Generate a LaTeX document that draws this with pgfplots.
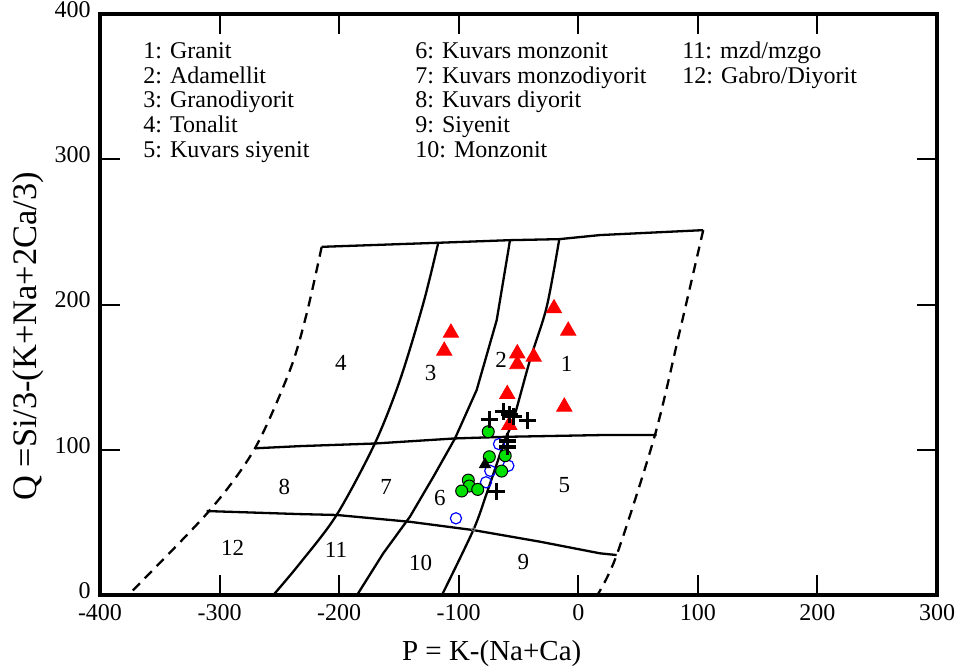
\documentclass[border=0pt]{standalone}
\usepackage{fontspec}
\setmainfont{Liberation Serif}
\usepackage{pgfplots}
\pgfplotsset{compat=1.18}
\definecolor{mygreen}{RGB}{0,225,0}
\begin{document}
\begin{tikzpicture}
\useasboundingbox (-50pt,-38pt) rectangle (429pt,297.5pt);
\begin{axis}[
  scale only axis, width=418.5pt, height=290.5pt,
  xmin=-400, xmax=300, ymin=0, ymax=400,
  xtick={-400,-300,-200,-100,0,100,200,300},
  ytick={0,100,200,300,400},
  xticklabels={-400,-300,-200,-100,0,100,200,300},
  yticklabels={0,100,200,300,400},
  tick align=inside, major tick length=10pt,
  tick style={line width=1pt, black},
  axis line style={line width=1.8pt},
  xticklabel style={font=\fontsize{12}{13}\selectfont, inner sep=1pt, yshift=-3.8pt},
  yticklabel style={font=\fontsize{12}{13}\selectfont, inner sep=1pt, yshift=2.2pt, xshift=-3.5pt},
  xlabel={P = K-(Na+Ca)},
  ylabel={Q =Si/3-(K+Na+2Ca/3)},
  xlabel style={font=\fontsize{14.5}{16}\selectfont, at={(axis description cs:0.468,-0.1)}, anchor=center},
  ylabel style={font=\fontsize{17.2}{19}\selectfont, at={(axis description cs:-0.086,0.445)}, anchor=center},
]
% boundaries
\addplot[black, line width=1.15pt] coordinates {(-214.6,239.7) (-117.1,242.5) (-57.1,244.3) (-15.9,245) (18.1,247.8) (104.5,251.2)};
\addplot[black, line width=1.15pt] coordinates {(-270.4,101) (-232.8,102.5) (-170.1,104.3) (-103.1,107.8) (-61.3,108.9) (18.1,110.1) (65.6,110.1)};
\addplot[black, line width=1.15pt] coordinates {(-310.8,57.8) (-232.8,55.7) (-202.1,55.1) (-140.8,50.4) (-87.8,44.7) (-32,36.7) (18.1,28.7) (32.1,27.5)};
\addplot[black, line width=1.15pt, smooth] coordinates {(-117.1,242.5) (-129.6,200.8) (-149.1,148) (-170.1,104.4) (-202.1,55.1) (-232.8,21.8) (-255,0)};
\addplot[black, line width=1.15pt] coordinates {(-57.1,244.3) (-68.2,189.3) (-85,141.1) (-103.1,107.8) (-121.2,81.4) (-140.8,53.9) (-163.1,28.7) (-185,0)};
\addplot[black, line width=1.15pt, smooth] coordinates {(-15.9,245) (-26.4,198.4) (-40.4,161.7) (-54.4,120.4) (-61.3,106.7) (-76.6,70) (-87.8,44.7) (-114,0)};
\addplot[black, line width=1.15pt, smooth, dash pattern=on 5pt off 3.5pt] coordinates {(-214.6,239.7) (-227.1,193.9) (-241.1,154.9) (-270.4,101) (-308,58.5) (-373.5,2.3) (-376,0)};
\addplot[black, line width=1.15pt, smooth, dash pattern=on 5pt off 3.5pt] coordinates {(104.5,251.2) (85.1,182.4) (64.1,110.1) (32.1,27.5) (16,0)};
% data
\addplot[only marks, mark=triangle*, mark size=4.4pt, color=red] coordinates {
(-106.5,180.5) (-112.1,168.1) (-51.0,166.3) (-51.0,158.8) (-37.3,164.0)
(-20.3,197.3) (-8.4,181.9) (-59.4,138.3) (-11.7,129.6) (-57.7,117.0)};
\addplot[only marks, mark=o, mark size=2.8pt, draw=blue, line width=0.6pt] coordinates {
(-66.3,103.9) (-58.5,89.0) (-73.6,85.5) (-77.2,77.6) (-102.3,52.8)};
\addplot[only marks, mark=o, mark size=0.9pt, draw=gray, line width=0.4pt] coordinates {(-87.8,45.2)};
\addplot[only marks, mark=*, mark size=3pt, fill=mygreen, draw=black, line width=0.5pt] coordinates {
(-75.3,112.4) (-74.4,95.2) (-61.1,95.9) (-64.1,85.3) (-92.0,79.1) (-91.2,75.0) (-97.5,71.6) (-84.1,72.7)};
\addplot[only marks, mark=triangle*, mark size=3.2pt, color=black] coordinates {(-78.0,89.9)};
\addplot[only marks, mark=+, mark size=4.2pt, line width=1.6pt, color=black] coordinates {
(-74.4,120.9) (-62.7,126.2) (-57.5,124.0) (-54.4,122.7) (-42.3,120.4) (-59.2,106.0) (-59.2,101.9) (-68.2,71.1)};
% region numbers
\begin{scope}[every node/.style={font=\fontsize{11.5}{13}\selectfont, anchor=center}]
\node at (axis cs:-9.7,159) {1};
\node at (axis cs:-64.6,161.7) {2};
\node at (axis cs:-123.4,153) {3};
\node at (axis cs:-198.5,159.5) {4};
\node at (axis cs:-11.7,75.7) {5};
\node at (axis cs:-115.7,66.6) {6};
\node at (axis cs:-160.8,74.5) {7};
\node at (axis cs:-245.9,74.5) {8};
\node at (axis cs:-46,22.9) {9};
\node at (axis cs:-131.8,22.2) {10};
\node at (axis cs:-202.6,31) {11};
\node at (axis cs:-289,32.1) {12};
\end{scope}
% legend text
\begin{scope}[every node/.style={font=\fontsize{12}{13}\selectfont, anchor=base west, inner sep=0pt}]
\node at (axis cs:-364,369.5) {1: Granit};
\node at (axis cs:-364,352.5) {2: Adamellit};
\node at (axis cs:-364,335.5) {3: Granodiyorit};
\node at (axis cs:-364,318.5) {4: Tonalit};
\node at (axis cs:-364,301.5) {5: Kuvars siyenit};
\node at (axis cs:-136.6,369.5) {6: Kuvars monzonit};
\node at (axis cs:-136.6,352.5) {7: Kuvars monzodiyorit};
\node at (axis cs:-136.6,335.5) {8: Kuvars diyorit};
\node at (axis cs:-136.6,318.5) {9: Siyenit};
\node at (axis cs:-136.6,301.5) {10: Monzonit};
\node at (axis cs:86.7,369.5) {11: mzd/mzgo};
\node at (axis cs:86.7,352.5) {12: Gabro/Diyorit};
\end{scope}
\end{axis}
\end{tikzpicture}
\end{document}
